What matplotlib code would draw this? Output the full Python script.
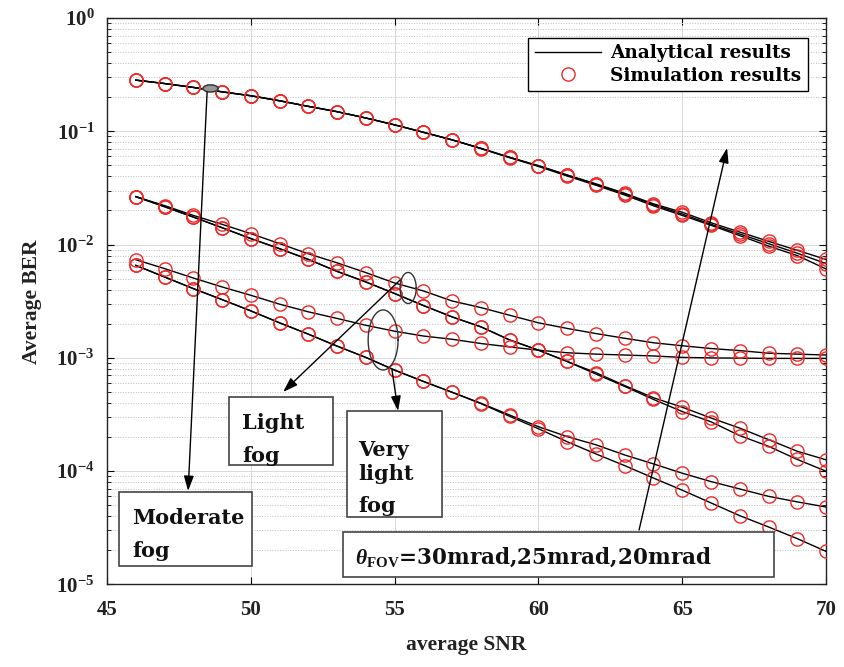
import numpy as np
import matplotlib.pyplot as plt
from matplotlib.patches import Rectangle
from matplotlib.ticker import FixedLocator, FuncFormatter, LogLocator, NullFormatter

plt.rcParams['font.family'] = 'Liberation Serif'
plt.rcParams['font.weight'] = 'bold'
plt.rcParams['mathtext.fontset'] = 'custom'
plt.rcParams['mathtext.rm'] = 'Liberation Serif:bold'
plt.rcParams['mathtext.bf'] = 'Liberation Serif:bold'
plt.rcParams['mathtext.it'] = 'Liberation Serif:italic:bold'

snr = list(range(46, 71))

# moderate fog (30, 25, 20 mrad)
mod_30 = [0.283, 0.264, 0.244, 0.223, 0.206, 0.186, 0.166, 0.149, 0.131, 0.114, 0.098, 0.084, 0.0708,
          0.059, 0.0498, 0.0412, 0.0344, 0.0284, 0.0229, 0.0193, 0.0156, 0.0129, 0.0107, 0.0089, 0.0074]
mod_25 = [0.283, 0.264, 0.244, 0.223, 0.206, 0.186, 0.166, 0.149, 0.131, 0.114, 0.098, 0.084, 0.0706,
          0.0588, 0.0495, 0.041, 0.034, 0.028, 0.0225, 0.0186, 0.0151, 0.0124, 0.0102, 0.0084, 0.0068]
mod_20 = [0.283, 0.264, 0.244, 0.223, 0.206, 0.186, 0.166, 0.149, 0.131, 0.114, 0.098, 0.084, 0.0704,
          0.0585, 0.049, 0.0403, 0.0334, 0.0274, 0.022, 0.0181, 0.0148, 0.012, 0.0097, 0.008, 0.0061]

# light fog
light_30 = [0.0265, 0.0221, 0.0181, 0.0151, 0.0125, 0.0102, 0.0083, 0.0069, 0.00566, 0.00458, 0.0039,
            0.00318, 0.00278, 0.00238, 0.00204, 0.00182, 0.00164, 0.00149, 0.00136, 0.00128, 0.00121,
            0.00116, 0.0011, 0.00108, 0.00106]
light_25 = [0.0265, 0.0216, 0.0175, 0.0141, 0.0113, 0.0092, 0.0074, 0.0058, 0.00468, 0.0037, 0.0029,
            0.0023, 0.00188, 0.00144, 0.00117, 0.00093, 0.00074, 0.00057, 0.000445, 0.000367, 0.000295,
            0.00024, 0.00019, 0.00015, 0.000126]
light_20 = [0.0265, 0.0216, 0.0175, 0.0141, 0.0113, 0.0092, 0.0074, 0.0058, 0.00468, 0.0037, 0.0029,
            0.0023, 0.00188, 0.00144, 0.00117, 0.00093, 0.00072, 0.00056, 0.00043, 0.000336, 0.000273,
            0.000206, 0.000166, 0.000127, 0.0001]

# very light fog
vlight_30 = [0.00736, 0.00614, 0.00507, 0.00423, 0.00357, 0.00298, 0.00255, 0.00223, 0.00194, 0.00172,
             0.00156, 0.00146, 0.00134, 0.00125, 0.00117, 0.00111, 0.00108, 0.00106, 0.00104, 0.00101,
             0.001, 0.000995, 0.00099, 0.00099, 0.00099]
vlight_25 = [0.00656, 0.00518, 0.00409, 0.00327, 0.0026, 0.00204, 0.00162, 0.00127, 0.00101, 0.00078,
             0.00062, 0.000497, 0.000398, 0.000313, 0.000247, 0.000202, 0.000171, 0.000139, 0.000116,
             0.000096, 0.000081, 0.0000697, 0.00006, 0.0000536, 0.0000483]
vlight_20 = [0.00656, 0.00518, 0.00409, 0.00327, 0.0026, 0.00204, 0.00162, 0.00127, 0.00101, 0.00078,
             0.00062, 0.000497, 0.000395, 0.000305, 0.000237, 0.000182, 0.000142, 0.000112, 0.000087,
             0.000068, 0.0000525, 0.0000405, 0.0000322, 0.0000254, 0.0000196]

curves = [mod_30, mod_25, mod_20, light_30, light_25, light_20, vlight_30, vlight_25, vlight_20]

fig = plt.figure(figsize=(8.44, 6.67), dpi=100)
ax = fig.add_axes([0.1268, 0.1237, 0.8519, 0.8493])

for c in curves:
    ax.plot(snr, c, color='black', lw=1.0, zorder=3)
    ax.plot(snr, c, 'o', mfc='none', mec='#ee2a2a', mew=1.0, ms=9.5, zorder=4)

ax.set_yscale('log')
ax.set_xlim(45, 70)
ax.set_ylim(1e-5, 1)
ax.set_xticks([45, 50, 55, 60, 65, 70])
ax.yaxis.set_major_locator(FixedLocator([1e-5, 1e-4, 1e-3, 1e-2, 1e-1, 1]))
ax.yaxis.set_major_formatter(FuncFormatter(lambda v, p: r'$\mathbf{10^{%d}}$' % round(np.log10(v))))
ax.yaxis.set_minor_locator(LogLocator(base=10, subs=np.arange(2, 10)))
ax.yaxis.set_minor_formatter(NullFormatter())
ax.tick_params(which='both', direction='in', top=True, right=True, labelcolor='#222222')
ax.tick_params(which='major', length=5, labelsize=15)
ax.tick_params(axis='x', pad=11)
ax.tick_params(axis='y', pad=9)
ax.tick_params(which='minor', length=3)

ax.grid(True, which='major', color='#d9d9d9', lw=0.7, ls='-')
ax.grid(True, which='minor', axis='y', color='#bfbfbf', lw=0.7, ls=':')
ax.set_axisbelow(True)

ax.set_xlabel('average SNR', fontsize=15.5, fontweight='bold', color='#222222')
ax.set_ylabel('Average BER', fontsize=15.5, fontweight='bold', color='#222222')
ax.xaxis.set_label_coords(0.5, -0.107)
ax.xaxis.label.set_va('center')
ax.yaxis.set_label_coords(-0.105, 0.5)
ax.yaxis.label.set_va('center')

# legend
ax.plot([], [], color='black', lw=1.0, label='Analytical results')
ax.plot([], [], 'o', mfc='none', mec='#ee2a2a', mew=1.0, ms=9.5, label='Simulation results')
handles, labels = ax.get_legend_handles_labels()
leg = ax.legend(handles[-2:], labels[-2:], loc='upper right', bbox_to_anchor=(0.975, 0.965),
                fancybox=False, edgecolor='black', framealpha=1, borderaxespad=0,
                prop={'family': 'DejaVu Serif', 'weight': 'bold', 'size': 13.3},
                handlelength=3.6, labelspacing=0.25, borderpad=0.35, handletextpad=0.5)
leg.get_frame().set_linewidth(1.0)
leg.set_zorder(10)


def ellipse(cx, cy, w, h_dec, fill=None):
    t = np.linspace(0, 2 * np.pi, 120)
    xs = cx + w / 2 * np.cos(t)
    ys = cy * 10 ** (h_dec / 2 * np.sin(t))
    ax.plot(xs, ys, color='#333333', lw=1.0, zorder=6)
    if fill:
        ax.fill(xs, ys, color=fill, zorder=5)


ellipse(48.6, 0.239, 0.52, 0.062, fill='#999999')
ellipse(55.47, 0.00414, 0.56, 0.274)
ellipse(54.6, 0.00144, 1.04, 0.53)

arrow = dict(arrowstyle='-|>,head_length=0.9,head_width=0.3', color='black', lw=1.0, shrinkA=0, shrinkB=0)
ax.annotate('', xy=(47.82, 6.7e-5), xytext=(48.48, 0.222), arrowprops=arrow, zorder=7)
ax.annotate('', xy=(51.12, 5.0e-4), xytext=(55.19, 0.00487), arrowprops=arrow, zorder=7)
ax.annotate('', xy=(55.12, 3.4e-4), xytext=(54.91, 7.8e-4), arrowprops=arrow, zorder=7)
ax.annotate('', xy=(66.56, 0.0713), xytext=(63.5, 3.03e-5), arrowprops=arrow, zorder=7)

# text boxes (axes fraction)
boxes = [(0.0167, 0.0327, 0.185, 0.1306), (0.1697, 0.211, 0.1446, 0.12),
         (0.3338, 0.119, 0.1321, 0.187), (0.3282, 0.0132, 0.5994, 0.0794)]
for x0, y0, w, h in boxes:
    ax.add_patch(Rectangle((x0, y0), w, h, transform=ax.transAxes, fill=True, fc='white',
                           ec='#444444', lw=1.2, zorder=8))

box_lines = [(0.0348, 0.1068, 'Moderate'), (0.0348, 0.0485, 'fog'),
             (0.1878, 0.2745, 'Light'), (0.1878, 0.2162, 'fog'),
             (0.349, 0.2277, 'Very'), (0.349, 0.1845, 'light'), (0.349, 0.128, 'fog')]
for x, y, s in box_lines:
    ax.text(x, y, s, transform=ax.transAxes, fontsize=15, fontweight='bold', family='DejaVu Serif',
            va='baseline', ha='left', color='#111111', zorder=9)

ax.text(0.345, 0.0362, r'$\theta_{\mathbf{FOV}}$=30mrad,25mrad,20mrad', transform=ax.transAxes,
        fontsize=15.5, fontweight='bold', family='DejaVu Serif', va='baseline', ha='left',
        color='#111111', zorder=9)

for s in ax.spines.values():
    s.set_linewidth(1.0)
    s.set_color('#222222')

fig.savefig('out.png', dpi=100)
